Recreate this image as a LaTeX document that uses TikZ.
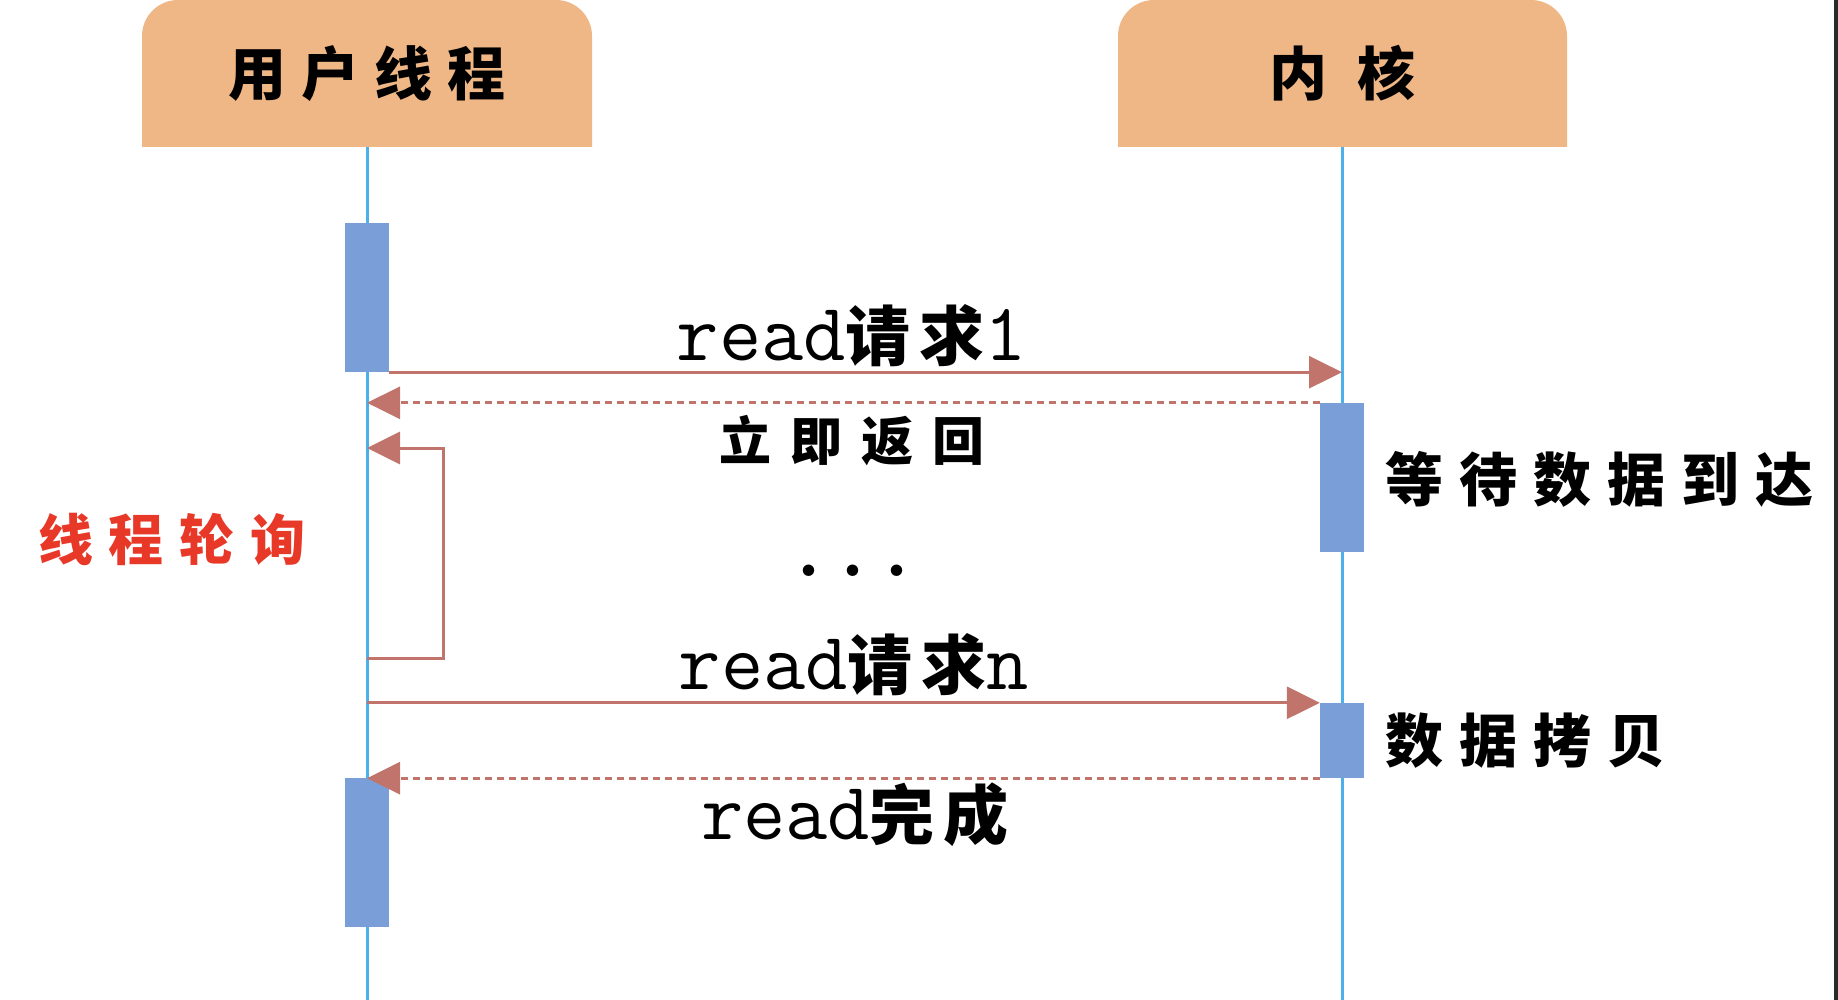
\documentclass[tikz,border=0pt]{standalone}
\usepackage{fontspec}
\newfontfamily\cjk{Noto Sans CJK SC}
\usetikzlibrary{arrows.meta}
\definecolor{hdrfill}{RGB}{239,182,134}
\definecolor{barfill}{RGB}{122,159,216}
\definecolor{lifeblue}{RGB}{78,176,232}
\definecolor{msgred}{RGB}{192,116,108}
\definecolor{pollred}{RGB}{232,56,40}
\definecolor{edgegray}{RGB}{42,42,42}
\newlength\csgap
\newcommand\csp{\hspace{\csgap}}
\tikzset{
  hdrnode/.style={inner sep=0pt, minimum width=450pt, minimum height=147pt, font=\cjk\bfseries\fontsize{58}{64}\selectfont},
  hdrshape/.style={fill=hdrfill, rounded corners=36pt},
  life/.style={draw=lifeblue, line width=3pt},
  bar/.style={fill=barfill, inner sep=0pt, minimum width=44pt},
  msg/.style={draw=msgred, line width=3pt, -{Triangle[length=33pt,width=32pt]}},
  ret/.style={msg, dash pattern=on 7pt off 5pt},
  lbl/.style={inner sep=0pt, font=\cjk\bfseries\fontsize{58}{64}\selectfont},
  msglbl/.style={inner sep=0pt, anchor=base},
}
\newcommand\rd{{\ttfamily\fontsize{82}{90}\selectfont read}}
\newcommand\zh[1]{{\cjk\bfseries\fontsize{65}{70}\selectfont #1}}
\begin{document}
\begin{tikzpicture}[x=1pt,y=-1pt]
\useasboundingbox (0,0) rectangle (1838,1000);
\fill[edgegray] (1834,0) rectangle (1838,1000);
% header shapes
\fill[hdrshape] (142,147) -- (142,0) -- (592,0) -- (592,147);
\fill[hdrshape] (1118,147) -- (1118,0) -- (1567,0) -- (1567,147);
\node[hdrnode] (U) at (367,73.5) {\setlength\csgap{15pt}用\csp 户\csp 线\csp 程};
\node[hdrnode, minimum width=449pt] (K) at (1342,73.5) {\setlength\csgap{30pt}内\csp 核};
% lifelines
\coordinate (Uend) at (367,1000);
\coordinate (Kend) at (1342,1000);
\draw[life] (U.south) -- (Uend);
\draw[life] (K.south) -- (Kend);
% activation bars
\node[bar, minimum height=149pt] (a1) at (367,297.5) {};
\node[bar, minimum height=149pt] (b1) at (1342,477.5) {};
\node[bar, minimum height=75pt] (b2) at (1342,740.5) {};
\node[bar, minimum height=149pt] (a2) at (367,852.5) {};
% messages
\draw[msg] (a1.south east) -- (a1.south east -| K.south);
\draw[ret] (b1.north west) -- (b1.north west -| U.south);
\coordinate (lpb) at (443,658);
\coordinate (lpt) at (443,448);
\draw[msg] (lpb -| U.south) -- (lpb) -- (lpt) -- (lpt -| U.south);
\draw[msg] (b2.north west -| U.south) -- (b2.north west);
\draw[ret] (b2.south west) -- (b2.south west -| U.south);
% labels
\node[msglbl] (l1) at (852,360) {\rd\zh{请\hspace{9pt}求}{\ttfamily\fontsize{82}{90}\selectfont 1}};
\node[lbl, font=\cjk\bfseries\fontsize{52}{58}\selectfont] (l2) at (852,441) {\setlength\csgap{19pt}立\csp 即\csp 返\csp 回};
\node[lbl, text=pollred, font=\cjk\bfseries\fontsize{55}{60}\selectfont] (poll) at (172,539) {\setlength\csgap{16pt}线\csp 程\csp 轮\csp 询};
\node[lbl, anchor=west] (wait) at (1385,479) {\setlength\csgap{16pt}等\csp 待\csp 数\csp 据\csp 到\csp 达};
\node[msglbl, font=\rmfamily\bfseries\fontsize{80}{86}\selectfont] (dots) at (853,576) {.\hspace{19pt}.\hspace{19pt}.};
\node[msglbl] (ln) at (854,689) {\rd\zh{请\hspace{9pt}求}{\ttfamily\fontsize{82}{90}\selectfont n}};
\node[lbl, anchor=west] (copy) at (1385,741) {\setlength\csgap{16pt}数\csp 据\csp 拷\csp 贝};
\node[msglbl] (ldone) at (855,839) {\rd\zh{完\hspace{9pt}成}};
\end{tikzpicture}
\end{document}
